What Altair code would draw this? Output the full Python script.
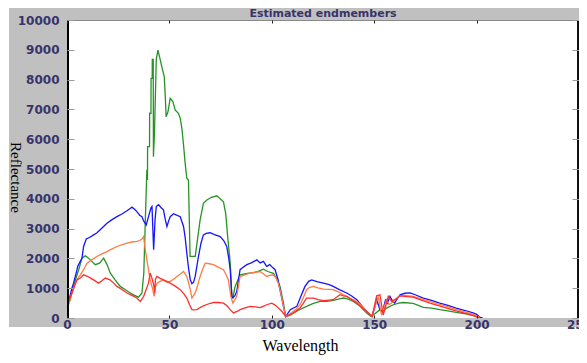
import altair as alt
import pandas as pd

# ---- data ----
series_names = ["Endmember 1", "Endmember 2", "Endmember 3", "Endmember 4"]
series_colors = ["#279327", "#1414ff", "#ff7a45", "#ff2e2e"]
title_text = "Estimated endmembers"

green_x = [0, 1.5, 2.4, 4, 5.7, 7.3, 8.9, 10, 11.4, 13.8, 15.9, 17.9, 19.5, 21.1, 23.5, 26, 28.5, 30.9, 33, 34.9,
           36.6, 37.5, 38.2, 39, 39.3, 39.35, 40.3, 40.35, 41, 41.05, 41.6, 41.65, 42.1, 42.2, 42.7, 43.6, 44.4,
           45.2, 46.3, 47.5, 48, 48.4, 49.3, 50.4, 51.7, 52.8, 54.4, 55.3, 56.1, 56.9, 57.7, 58.5, 59.3, 60.1,
           62.6, 65, 66.6, 68.3, 70.5, 73.2, 76.4, 77.5, 78.5, 79.7, 80.5, 81, 82.1, 84.5, 88, 91, 93, 95.9, 98,
           100.8, 102.5, 104, 105.7, 106.7, 108.5, 110.5, 113, 117, 120, 123.5, 127, 130, 133, 135, 137, 139.8,
           143, 146.3, 148.5, 150.5, 152.8, 154, 156, 159.3, 162, 164.2, 169, 174, 178, 182, 186, 190, 194,
           198.3, 201.5]
green_y = [390, 600, 840, 1250, 1620, 2010, 2085, 2040, 1950, 1790, 1840, 2010, 1800, 1510, 1280, 1060, 950, 840,
           760, 700, 840, 1500, 3180, 4970, 4630, 5750, 5750, 6870, 6870, 8040, 8040, 8680, 8680, 5410, 6200,
           8680, 8990, 8760, 8430, 8090, 7420, 6750, 6920, 7370, 7260, 6980, 6870, 6700, 6365, 5805, 5190, 4690,
           4630, 2065, 2065, 3290, 3850, 3960, 4050, 4100, 3900, 3500, 2700, 1840, 725, 680, 1060, 1450, 1500,
           1520, 1560, 1640, 1560, 1500, 1300, 1060, 500, 50, 80, 165, 260, 390, 480, 555, 560, 590, 640, 670,
           640, 555, 400, 165, 50, 150, 280, 230, 330, 445, 500, 520, 490, 355, 330, 280, 240, 190, 150, 90, 0]

blue_x = [0, 1, 2.4, 3.2, 4.9, 5.2, 6.5, 7.3, 8.1, 9.4, 11, 13, 14.5, 16.2, 18, 19.5, 22, 24.4, 27, 29.3, 31,
          31.7, 33, 34.1, 35.5, 36.6, 37.5, 38.7, 39.8, 41, 41.5, 42.3, 43, 43.6, 44.7, 46, 47.1, 48, 48.8,
          49.6, 50.4, 52, 53.5, 55.3, 56.9, 57.7, 58.5, 59.3, 60.2, 61, 61.8, 62.6, 64.2, 65.4, 66.6, 68, 69.9,
          72, 74.8, 76.5, 78, 79, 79.7, 80.5, 81, 82, 82.9, 84.5, 86, 87.8, 90, 92.7, 94.3, 95.9, 97.5, 99,
          100.3, 101.6, 103, 104, 105.7, 106.8, 109, 112.2, 114, 116.2, 118, 119.5, 122, 125.2, 128, 130, 133,
          136.6, 139, 141.5, 143.5, 145.5, 148.8, 150, 151.2, 152.8, 154, 155.5, 156.5, 157.7, 159, 160, 161.3,
          162.6, 165, 167.5, 170, 174, 178, 182, 186, 190, 194, 198.3, 200, 201.5, 203]
blue_y = [390, 600, 1000, 1170, 1620, 1730, 1900, 2000, 2400, 2650, 2700, 2790, 2850, 2960, 3080, 3180, 3300,
          3400, 3500, 3600, 3680, 3720, 3650, 3570, 3450, 3400, 3250, 3125, 3400, 3700, 3740, 2290, 3300, 3740,
          3800, 3700, 3630, 3300, 3070, 3250, 3400, 3500, 3450, 3400, 3070, 2700, 2180, 1700, 1280, 1150, 1200,
          1395, 2065, 2500, 2790, 2840, 2860, 2800, 2730, 2600, 2400, 2000, 1620, 725, 680, 750, 890, 1620,
          1700, 1790, 1850, 1950, 1850, 1900, 1735, 1790, 1700, 1620, 1300, 950, 390, 50, 280, 390, 700, 1060,
          1230, 1280, 1220, 1170, 1120, 1060, 950, 840, 740, 615, 450, 280, 55, 300, 615, 280, 200, 600, 500,
          725, 560, 500, 650, 780, 830, 840, 780, 670, 590, 500, 420, 335, 260, 170, 120, 30, 0]

orange_x = [0, 1, 2.4, 4, 5, 6.5, 8.1, 9.8, 12, 14.6, 17, 19.5, 22, 24.4, 27, 29.3, 31.7, 34.1, 35.5, 36.6,
            37.4, 38, 39, 40.6, 41.9, 42.3, 42.6, 43.2, 43.9, 45.5, 47.1, 48.8, 50.4, 52, 53.7, 55.3, 56.9,
            58.5, 59.5, 60.2, 61, 62.6, 63.8, 65, 66.3, 67.5, 69.5, 71.5, 74, 76.4, 77.7, 78.8, 80, 81, 82.9,
            84.5, 87, 89.4, 92, 94.3, 96, 97.5, 99, 100.8, 102, 103.2, 104.5, 105.4, 106.8, 108.5, 110.5, 112,
            113.8, 115.5, 117, 118.5, 120.3, 122.5, 125.2, 128, 130, 132.5, 135, 138, 141.5, 144, 146.3, 149,
            150.5, 152, 153.6, 155, 156, 157.3, 158.5, 160, 162.6, 165, 169, 173, 177.2, 181, 185.4, 190, 195,
            198.5, 201.5]
orange_y = [300, 500, 840, 1150, 1300, 1450, 1620, 1840, 1950, 2065, 2150, 2230, 2320, 2400, 2460, 2510, 2550,
            2570, 2600, 2650, 2730, 2400, 1950, 1280, 950, 800, 725, 1050, 1170, 1230, 1280, 1200, 1230, 1300,
            1395, 1480, 1560, 1395, 1150, 950, 670, 840, 1100, 1395, 1650, 1840, 1820, 1790, 1700, 1620, 1450,
            1280, 725, 500, 725, 1395, 1450, 1510, 1530, 1560, 1480, 1395, 1430, 1450, 1350, 1170, 800, 500, 50,
            120, 225, 300, 445, 700, 950, 1030, 1060, 1010, 970, 960, 950, 880, 780, 670, 555, 400, 220, 50,
            400, 725, 100, 400, 615, 450, 500, 600, 745, 760, 725, 640, 555, 470, 390, 290, 190, 120, 20]

red_x = [0, 1, 2.4, 3.5, 4.9, 6.5, 8.1, 10, 11.5, 13, 15.4, 17, 18.7, 21, 22.8, 24.4, 27, 29.3, 31.7, 34.1,
         35.8, 37.4, 38.6, 39.8, 40.6, 41.4, 42.3, 42.8, 43.2, 43.9, 45.5, 47.1, 48.8, 50.4, 53, 55.3, 57, 58.5,
         59.8, 61, 62, 63.4, 65, 66.6, 69, 71.5, 74, 76.4, 78, 79.7, 81.3, 83, 84.5, 87, 89.4, 92, 94.3, 96,
         97.5, 100, 101.2, 102.4, 104.9, 106.8, 108.5, 110.5, 113.8, 117, 120.3, 122.5, 125.2, 128, 130, 133.3,
         135, 136.6, 139, 141.5, 144, 146.3, 149, 151.2, 152.8, 154.4, 156.9, 158.5, 160, 162.6, 166, 169, 173,
         177.2, 181, 185.4, 190, 195, 198.5, 201.5]
red_y = [390, 600, 840, 1050, 1280, 1340, 1450, 1400, 1340, 1280, 1170, 1250, 1340, 1280, 1170, 1060, 950, 840,
         760, 670, 555, 720, 950, 1170, 1510, 1350, 1120, 850, 1300, 1395, 1330, 1280, 1230, 1170, 1060, 950,
         820, 670, 450, 280, 270, 280, 350, 410, 470, 520, 520, 500, 420, 280, 170, 220, 280, 340, 390, 370,
         350, 400, 445, 500, 450, 390, 225, 50, 100, 165, 335, 670, 670, 620, 580, 600, 615, 780, 740, 725, 620,
         500, 350, 220, 50, 745, 780, 100, 725, 560, 615, 745, 720, 700, 600, 500, 420, 335, 240, 145, 80, 0]

x_ticks = [0, 50, 100, 150, 200, 250]
y_ticks = [0, 1000, 2000, 3000, 4000, 5000, 6000, 7000, 8000, 9000, 10000]

rows = []
for name, xs, ys in zip(series_names, [green_x, blue_x, orange_x, red_x], [green_y, blue_y, orange_y, red_y]):
    for i, (a, b) in enumerate(zip(xs, ys)):
        rows.append({"series": name, "band": a, "value": b, "idx": i})
df = pd.DataFrame(rows)

W, H = 512, 298
label_color = "#37336b"
x_scale = alt.Scale(domain=[0, 250], nice=False, zero=False)
y_scale = alt.Scale(domain=[0, 10000], nice=False)
one = alt.Data(values=[{}])

common_axis = dict(
    domain=False, ticks=False, zindex=1, grid=True, gridWidth=1, format="d",
    labelFont="DejaVu Sans", labelFontWeight="bold", labelFontSize=12, labelColor=label_color,
    labelFlush=False, labelOverlap=False,
    titleFont="Liberation Serif", titleFontWeight="normal", titleColor="black",
    titleAlign="center", titleBaseline="middle",
)

bg = alt.Chart(one).mark_rect(color="#c0c0c0", clip=False).encode(
    x=alt.value(-58), x2=alt.value(W), y=alt.value(-12), y2=alt.value(307))
panel = alt.Chart(one).mark_rect(color="white").encode(
    x=alt.value(0), x2=alt.value(W), y=alt.value(0), y2=alt.value(H))

title_mark = alt.Chart(one).mark_text(
    font="DejaVu Sans", fontSize=11, fontWeight="bold", color=label_color,
    align="center", baseline="alphabetic").encode(
    x=alt.value(256), y=alt.value(-3.5), text=alt.value(title_text))

lines = alt.Chart(df).mark_line(strokeWidth=1.3, clip=True).encode(
    x=alt.X("band:Q", scale=x_scale,
            axis=alt.Axis(values=x_ticks, title="Wavelength", titleX=233, titleY=27,
                          labelPadding=1, titleFontSize=16,
                          gridColor="#222222", gridDash=[3, 292], **common_axis)),
    y=alt.Y("value:Q", scale=y_scale,
            axis=alt.Axis(values=y_ticks, title="Reflectance", titleAngle=90, titleX=-52, titleY=157,
                          labelPadding=8, titleFontSize=15,
                          gridColor="#999999", gridDash=[7, 498], **common_axis)),
    color=alt.Color("series:N", scale=alt.Scale(domain=series_names, range=series_colors), legend=None),
    order=alt.Order("idx:Q"),
)

left_frame = alt.Chart(one).mark_rule(color="black", strokeWidth=2).encode(
    x=alt.value(1), y=alt.value(0), y2=alt.value(H))
right_frame = alt.Chart(one).mark_rule(color="#111111", strokeWidth=2).encode(
    x=alt.value(W - 1), y=alt.value(0), y2=alt.value(H))
top_frame = alt.Chart(one).mark_rule(color="#8a8a8a", strokeWidth=1).encode(
    x=alt.value(0), x2=alt.value(W), y=alt.value(0.5))

chart = alt.layer(
    bg, panel, lines, left_frame, right_frame, top_frame, title_mark
).properties(
    width=W, height=H,
    autosize=alt.AutoSizeParams(type="none"),
    padding={"left": 59, "top": 12, "right": 0, "bottom": 37},
    background="white",
).configure_view(
    stroke=None
)

chart.save("out.html", embed_options={"renderer": "svg", "actions": False})
